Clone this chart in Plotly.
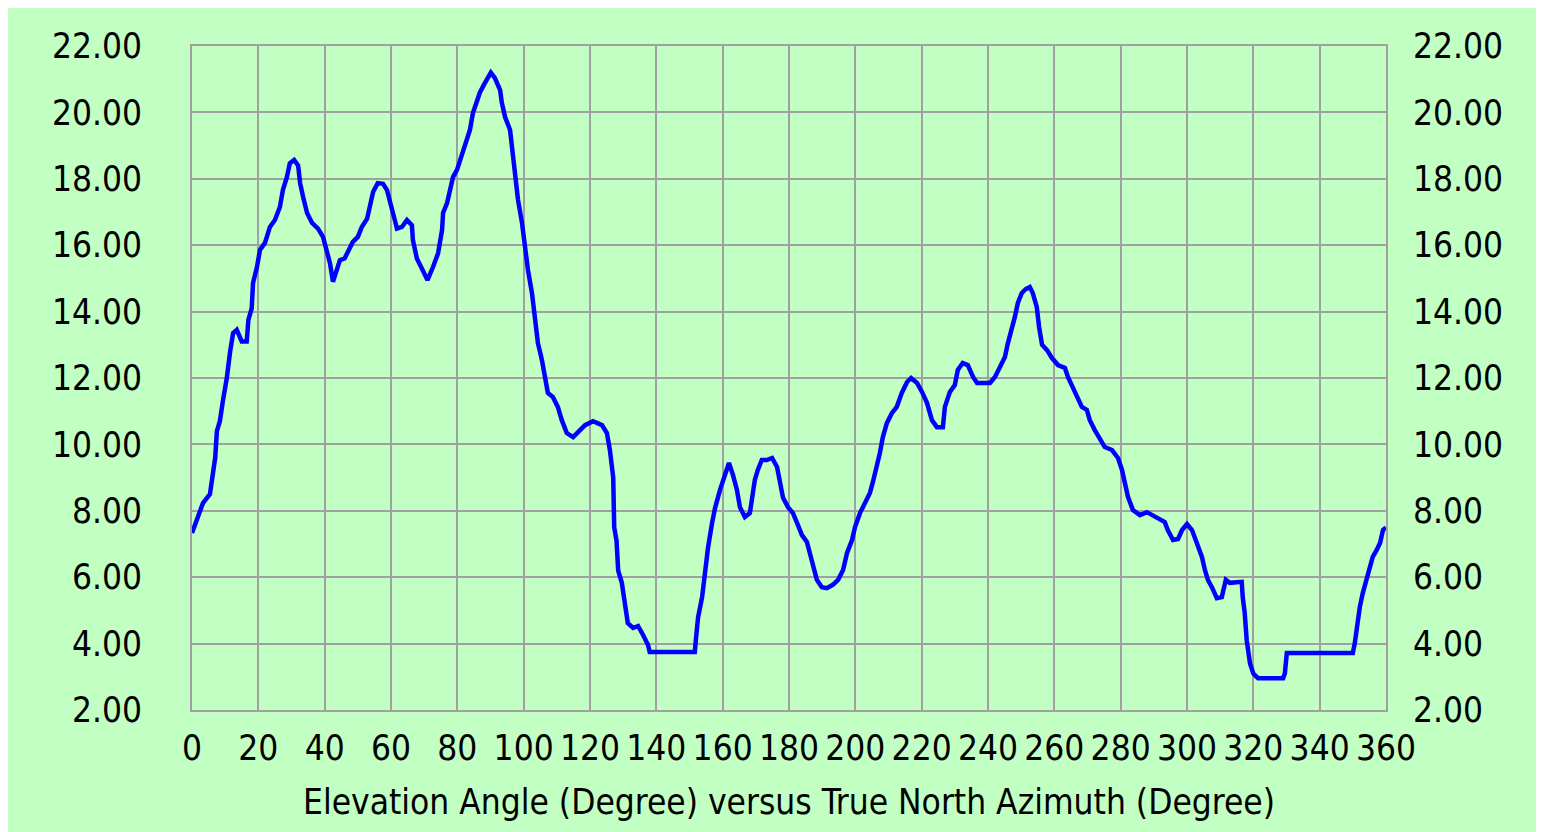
import plotly.graph_objects as go

# Horizon profile: elevation angle vs. true-north azimuth (degrees)
AZIMUTH = [
    0, 1.5, 3.3, 5.4, 6.3, 7, 7.5, 8.4, 9.3, 10.5, 11.5, 12.4, 13.5, 15, 16.5, 17, 18,
    18.4, 19.6, 20.5, 22, 23.5, 25, 26.5, 27.4, 28.6, 29.5, 30.8, 32, 32.6, 33.5, 34.7,
    36.2, 38, 39.5, 40.7, 41.6, 42.5, 43.7, 44.6, 46, 47.6, 48.5, 50, 51.2, 52.8, 53.7,
    54.6, 56, 57.6, 58.8, 59.7, 60.9, 61.8, 63.3, 64.8, 66.3, 66.6, 67.8, 69.3, 71, 72.7,
    74.2, 75.4, 75.7, 76.9, 77.8, 78.7, 79.9, 80.8, 81.7, 82.9, 83.8, 84.7, 85.9, 86.8,
    88, 89.2, 90.1, 91.3, 92.9, 93.4, 94.4, 95.9, 96.5, 97.4, 98.3, 99.5, 100.4, 101.3,
    102.5, 103.4, 104.3, 105.5, 106.4, 107.3, 108.8, 110.3, 111.5, 113, 114.9, 116.4,
    118.5, 120.9, 123.6, 125.1, 126, 127, 127.3, 128, 128.5, 129.6, 130.5, 131.4, 133,
    134.5, 136, 137.5, 138, 151.6, 152, 152.6, 153.8, 154.7, 155.6, 156.8, 157.7, 159.2,
    160.7, 161.9, 163.1, 164.3, 165.2, 166.7, 168.2, 168.8, 169.7, 170.6, 171.8, 173.3,
    174.9, 176.4, 177.3, 178.2, 179.7, 181.2, 182.7, 183.9, 185.4, 186.3, 187.2, 188.4,
    189.9, 191.4, 193.2, 194.8, 196.3, 197.5, 199, 199.9, 201.4, 202.9, 204.4, 205.3,
    206.5, 207.4, 208.3, 209.5, 211, 212.5, 214, 215.6, 216.8, 218.6, 220.1, 221.6,
    223.1, 224.6, 226.4, 227, 228.5, 230, 230.9, 232.4, 233.9, 235.5, 236.7, 240.6,
    242.1, 243.6, 245.1, 246, 247.2, 248.1, 249, 250.2, 251.4, 252.6, 253.5, 254.7,
    255.4, 256.3, 257.8, 259.3, 261.1, 263.2, 264.1, 265.6, 266.8, 268.3, 269.8, 270.7,
    272.2, 273.7, 275.2, 277.4, 279.2, 280.4, 281.3, 282.2, 283.7, 285.8, 287.9, 289.7,
    291.8, 293.3, 294.2, 295.8, 297.3, 298.5, 300, 301.5, 302.4, 303.3, 304.5, 305.4,
    306.3, 307.5, 309, 310.5, 311.7, 312.9, 315, 316.5, 316.8, 317.4, 318, 319, 320,
    321.4, 329, 329.5, 330.1, 350, 350.6, 351.2, 352.1, 353, 354.2, 355.1, 356, 357.2,
    358.2, 359.1, 360,
]
ELEVATION = [
    7.33, 7.72, 8.23, 8.5, 9.1, 9.6, 10.4, 10.7, 11.3, 12.0, 12.8, 13.35, 13.45, 13.1, 13.1, 13.75, 14.1,
    14.86, 15.35, 15.86, 16.07, 16.55, 16.76, 17.15, 17.66, 18.05, 18.47, 18.57, 18.4, 17.87, 17.45, 16.97,
    16.67, 16.5, 16.25, 15.86, 15.46, 14.9, 15.25, 15.55, 15.6, 15.9, 16.1, 16.25, 16.55, 16.8, 17.15,
    17.6, 17.87, 17.85, 17.66, 17.36, 16.85, 16.5, 16.55, 16.76, 16.6, 16.16, 15.6, 15.3, 14.95, 15.35,
    15.76, 16.46, 16.97, 17.27, 17.75, 18.05, 18.27, 18.57, 18.87, 19.17, 19.47, 19.98, 20.37, 20.6,
    20.83, 21.07, 21.2, 21.04, 20.67, 20.3, 19.86, 19.47, 18.87, 18.05, 17.36, 16.67, 15.95, 15.25,
    14.56, 13.75, 13.05, 12.54, 11.94, 11.55, 11.43, 11.13, 10.73, 10.34, 10.22, 10.37,
    10.58, 10.7, 10.58, 10.34, 9.83, 9.0, 7.5, 7.1, 6.2, 5.83, 5.22, 4.62, 4.47,
    4.53, 4.26, 3.96, 3.75, 3.75, 4.2, 4.8, 5.4, 6.2, 6.9, 7.63, 8.08, 8.63,
    9.14, 9.44, 9.08, 8.63, 8.11, 7.81, 7.93, 8.42, 8.93, 9.23, 9.53, 9.53,
    9.59, 9.32, 8.84, 8.39, 8.11, 7.93, 7.57, 7.27, 7.06, 6.73, 6.31, 5.92,
    5.7, 5.67, 5.77, 5.92, 6.22, 6.73, 7.12, 7.51, 7.93, 8.23, 8.54, 8.87,
    9.32, 9.74, 10.22, 10.64, 10.94, 11.13, 11.55, 11.88, 12.0, 11.85, 11.58, 11.25,
    10.73, 10.52, 10.52, 11.13, 11.58, 11.79, 12.24, 12.45, 12.39, 12.03, 11.85, 11.85,
    12.03, 12.3, 12.63, 13.05, 13.45, 13.84, 14.26, 14.56, 14.68, 14.74, 14.56, 14.14,
    13.54, 13.0, 12.84, 12.6, 12.39, 12.3, 12.03, 11.7, 11.43, 11.13, 11.04, 10.73,
    10.43, 10.19, 9.92, 9.83, 9.59, 9.23, 8.84, 8.42, 8.02, 7.87, 7.96, 7.87,
    7.75, 7.66, 7.42, 7.12, 7.15, 7.42, 7.6, 7.42, 7.18, 6.97, 6.61, 6.22,
    5.92, 5.7, 5.37, 5.4, 5.92, 5.83, 5.83, 5.86, 5.4, 4.92, 4.1, 3.4, 3.1,
    2.96, 2.96, 3.1, 3.72, 3.72, 4.02, 4.5, 5.1, 5.52, 5.92, 6.31, 6.61, 6.82,
    7.03, 7.42, 7.5,
]

X_TICKS = list(range(0, 361, 20))
Y_TICKS = list(range(2, 23, 2))
X_TITLE = "Elevation Angle (Degree) versus True North Azimuth (Degree)"

BG = "#C2FFC2"
GRID = "#A0A0A0"
FONT = dict(family="Liberation Sans Narrow, Arial Narrow, DejaVu Sans Condensed, sans-serif",
            size=35, color="black")

fig = go.Figure()
fig.add_trace(go.Scatter(x=AZIMUTH, y=ELEVATION, mode="lines",
                         line=dict(color="#0000FF", width=4.5), hoverinfo="x+y"))
# twin axis on the right carries the same values
fig.add_trace(go.Scatter(x=AZIMUTH, y=ELEVATION, mode="lines", yaxis="y2",
                         line=dict(color="rgba(0,0,0,0)", width=0), hoverinfo="skip"))

_axis = dict(gridcolor=GRID, gridwidth=2, showline=True, linecolor=GRID, linewidth=2,
             mirror=True, zeroline=False, ticks="", tickfont=FONT)

# page body adds an 8px white margin; the figure fills the rest of the window
fig.update_layout(
    width=1536, height=824,
    margin=dict(l=184, r=158, t=38, b=122),
    paper_bgcolor=BG, plot_bgcolor=BG,
    font=FONT, showlegend=False,
    xaxis=dict(**_axis, range=[0, 360], tickvals=X_TICKS, ticklabelstandoff=6,
               title=dict(text=X_TITLE, font=FONT, standoff=22)),
    yaxis=dict(**_axis, range=[2, 22], tickvals=Y_TICKS, tickformat=".2f",
               ticklabelstandoff=41),
    yaxis2=dict(range=[2, 22], tickvals=Y_TICKS, tickformat=".2f", overlaying="y",
                side="right", showgrid=False, zeroline=False, showline=False, ticks="",
                tickfont=FONT, ticklabelstandoff=26),
)

fig.write_html("out.html")
